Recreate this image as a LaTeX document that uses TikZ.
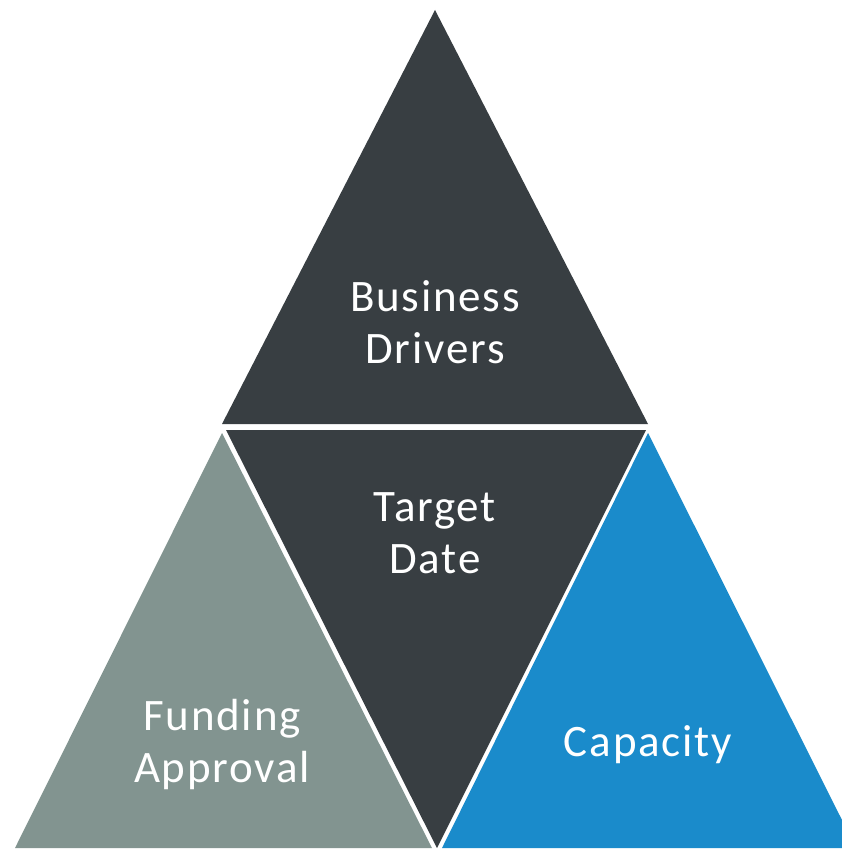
\documentclass[tikz,border=0pt]{standalone}
\usepackage{fontspec}
\setmainfont{Carlito}[LetterSpace=4]
\definecolor{darktri}{HTML}{383E42}
\definecolor{graytri}{HTML}{829490}
\definecolor{bluetri}{HTML}{1A8BCB}
\begin{document}
\begin{tikzpicture}[x=1pt,y=-1pt,
  lbl/.style={text=white,font=\fontsize{45}{52}\selectfont,align=center,inner sep=0pt}]
\useasboundingbox[fill=white] (0,0) rectangle (842,851);
% triangles
\fill[darktri] (435,10) -- (222,424) -- (648,424) -- cycle;
\fill[darktri] (226,430) -- (646,430) -- (437,848) -- cycle;
\fill[graytri] (222,433) -- (15,848) -- (432,848) -- cycle;
\fill[bluetri] (648,433) -- (442,848) -- (842,848) -- (842,820) -- cycle;
% labels
\node[lbl] (bd) at (435,322) {Business\\Drivers};
\node[lbl] (td) at (435,533) {Target\\Date};
\node[lbl] (fa) at (222,744) {Funding\\Approval};
\node[lbl] (cap) at (648,745) {Capacity};
\end{tikzpicture}
\end{document}
